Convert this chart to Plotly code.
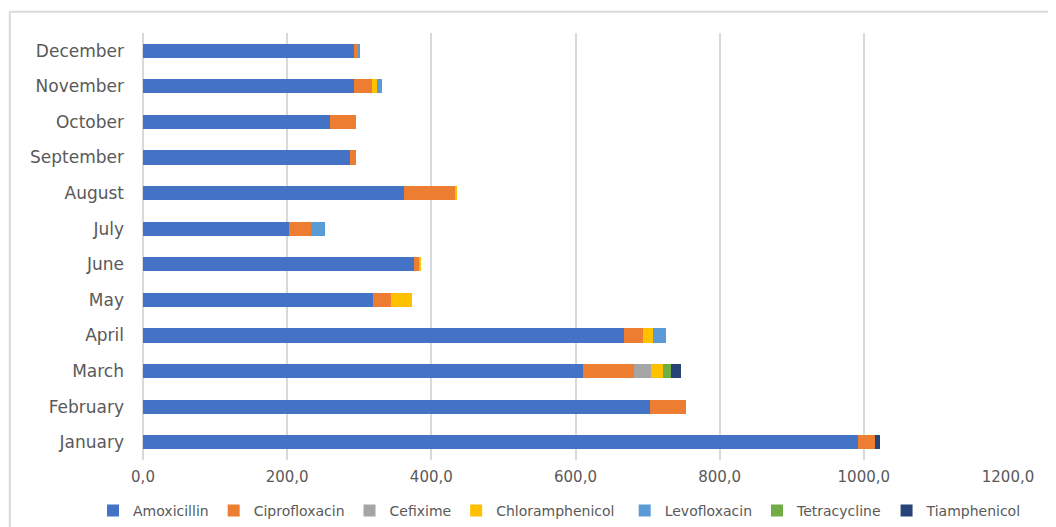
import plotly.graph_objects as go

months = ["January", "February", "March", "April", "May", "June",
          "July", "August", "September", "October", "November", "December"]

amoxicillin     = [992, 703, 610, 667, 319, 376, 203, 362, 287, 259, 293, 293]
ciprofloxacin   = [23, 50, 71, 26, 25, 8, 30, 72, 9, 37, 25, 5]
cefixime        = [0, 0, 24, 0, 0, 0, 0, 0, 0, 0, 0, 0]
chloramphenicol = [0, 0, 16, 14, 29, 2, 0, 1.5, 0, 0, 6, 0]
levofloxacin    = [0, 0, 0, 18, 0, 0, 20, 0, 0, 0, 7, 3]
tetracycline    = [0, 0, 11, 0, 0, 0, 0, 0, 0, 0, 0, 0]
tiamphenicol    = [7.5, 0, 14, 0, 0, 0, 0, 0, 0, 0, 0, 0]

series = [
    ("Amoxicillin", amoxicillin, "#4472C4", "legend"),
    ("Ciprofloxacin", ciprofloxacin, "#ED7D31", "legend"),
    ("Cefixime", cefixime, "#A5A5A5", "legend"),
    ("Chloramphenicol", chloramphenicol, "#FFC000", "legend"),
    ("Levofloxacin", levofloxacin, "#5B9BD5", "legend2"),
    ("Tetracycline", tetracycline, "#70AD47", "legend2"),
    ("Tiamphenicol", tiamphenicol, "#264478", "legend2"),
]

x_ticks = [0, 200, 400, 600, 800, 1000, 1200]
x_tick_labels = ["0,0", "200,0", "400,0", "600,0", "800,0", "1000,0", "1200,0"]

fig = go.Figure()
for name, vals, color, lg in series:
    fig.add_trace(go.Bar(
        y=months, x=vals, name=name, orientation="h", legend=lg,
        marker=dict(color=color, line=dict(width=0)),
    ))

font_family = "'DejaVu Sans', sans-serif"
legend_common = dict(orientation="h", xref="container", xanchor="left",
                     yref="paper", y=-0.119, yanchor="middle",
                     font=dict(size=14, color="#595959"), traceorder="normal",
                     itemwidth=30, tracegroupgap=0, bgcolor="rgba(0,0,0,0)")
fig.update_layout(
    barmode="stack",
    bargap=0.6,
    width=1056, height=527,
    margin=dict(l=135, r=56, t=25, b=75, autoexpand=False),
    paper_bgcolor="white",
    plot_bgcolor="white",
    font=dict(family=font_family, size=15, color="#595959"),
    legend=dict(x=0.0805, **legend_common),
    legend2=dict(x=0.584, **legend_common),
    xaxis=dict(range=[0, 1200], tickvals=x_ticks, ticktext=x_tick_labels,
               showgrid=True, gridcolor="#D9D9D9", gridwidth=2,
               zeroline=True, zerolinecolor="#D9D9D9", zerolinewidth=2,
               showline=False, ticks="", ticklabelstandoff=6,
               tickfont=dict(size=15, color="#595959")),
    yaxis=dict(categoryorder="array", categoryarray=months,
               showgrid=False, zeroline=False, showline=False, ticks="",
               ticklabelstandoff=18, tickfont=dict(size=17, color="#595959")),
    shapes=[
        dict(type="line", xref="paper", yref="paper", x0=-0.154, x1=1.07,
             y0=1.050, y1=1.050, line=dict(color="#D9D9D9", width=2)),
        dict(type="line", xref="paper", yref="paper", x0=-0.154, x1=-0.154,
             y0=1.050, y1=-0.2, line=dict(color="#D9D9D9", width=2)),
    ],
)

fig.write_html("out.html")
